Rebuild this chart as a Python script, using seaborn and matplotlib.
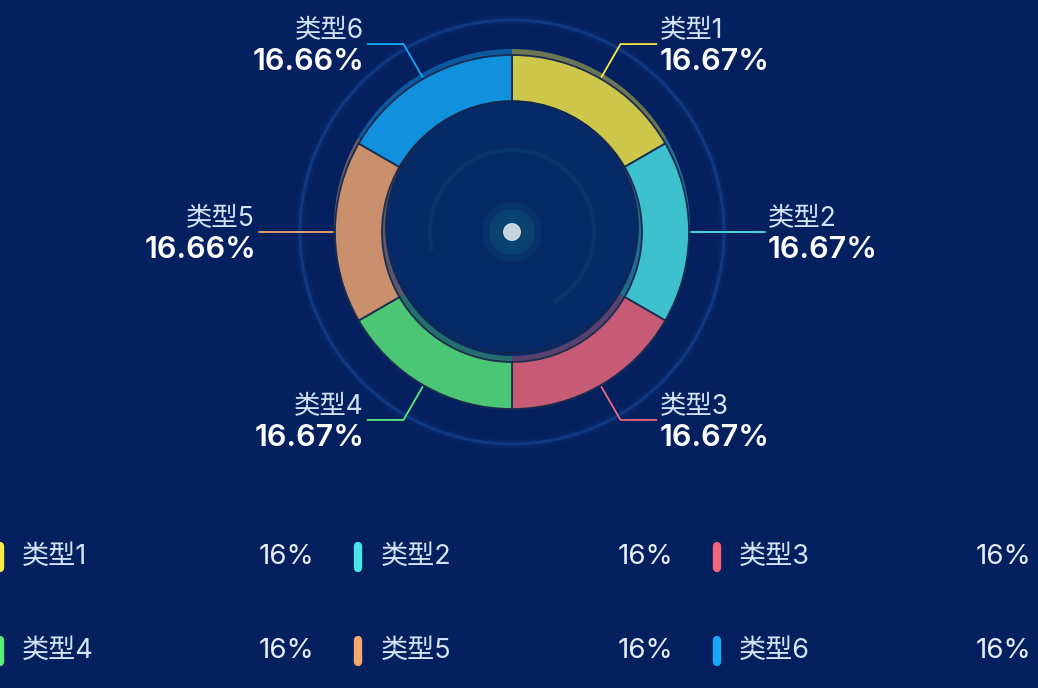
import numpy as np
import matplotlib
matplotlib.use('Agg')
import matplotlib.pyplot as plt
from matplotlib.colors import to_rgb
from matplotlib.patches import Circle, Arc
import seaborn as sns

# == data
names = ['类型1', '类型2', '类型3', '类型4', '类型5', '类型6']
values = [1, 1, 1, 1, 1, 1]
pct_labels = ['16.67%', '16.67%', '16.67%', '16.67%', '16.66%', '16.66%']
legend_pct = ['16%', '16%', '16%', '16%', '16%', '16%']
colors = ['#F9EC48', '#4AE4E6', '#F2687A', '#5BEB78', '#F5A870', '#14A9FA']

bg = '#04205F'
sns.set_theme(style='white', rc={'figure.facecolor': bg, 'axes.facecolor': bg})
plt.rcParams['font.family'] = ['Inter', 'Noto Sans CJK SC', 'DejaVu Sans']
pal = sns.color_palette(colors)


def blend(c, a, base=bg):
    c, b = np.array(to_rgb(c)), np.array(to_rgb(base))
    return tuple(a * c + (1 - a) * b)


pal_main = [blend(c, 0.82) for c in pal]
pal_shadow = [blend(c, 0.42) for c in pal]
pal_inner = [blend(c, 0.35, '#062a68') for c in pal]

fig = plt.figure(figsize=(10.38, 6.88), dpi=100)
ax = fig.add_axes([0, 0, 1, 1])
cx, cy = 512, 232
disc = '#062a68'

# == faint outer ring with a soft glow
for lw, a in [(8, 0.05), (5, 0.1), (2.2, 0.42)]:
    ax.add_patch(Circle((cx, cy), 212, fill=False, lw=lw, ec='#1d50a0', alpha=a, zorder=1))

# == inner disc (base)
ax.add_patch(Circle((cx, cy), 130, fc=disc, ec='none', zorder=1))

# == shadow-like thin rings: outer one shows at the top, inner one at the bottom
ax.pie(values, colors=pal_shadow, radius=178, center=(cx, cy - 5), startangle=-90, counterclock=True,
       wedgeprops=dict(width=10, edgecolor='none'))
ax.pie(values, colors=pal_inner, radius=130, center=(cx, cy), startangle=-90, counterclock=True,
       wedgeprops=dict(width=6, edgecolor='none'))
ax.add_patch(Circle((cx, cy - 5), 126, fc=disc, ec='#14264a', lw=1.2, zorder=2))

# == decorative arc and centre dot
ax.add_patch(Arc((cx, cy), 164, 164, theta1=-193, theta2=59, lw=3, color='#0e4d73', alpha=0.3, zorder=3))
ax.add_patch(Circle((cx, cy), 30, fc='#0b4a72', ec='none', alpha=0.3, zorder=3))
ax.add_patch(Circle((cx, cy), 23, fc='#0b4a72', ec='none', alpha=0.65, zorder=3))
ax.add_patch(Circle((cx, cy), 9, fc='#c9d3e0', ec='none', zorder=4))

# == main donut
ax.pie(values, colors=pal_main, radius=177, center=(cx, cy), startangle=-90, counterclock=True,
       wedgeprops=dict(width=47, edgecolor='#1b2c4e', linewidth=1.3))

# == leader lines and labels
fracs = np.array(values) / np.sum(values)
starts = 90 - 360 * np.concatenate([[0], np.cumsum(fracs)[:-1]])
mids = starts - 180 * fracs
for i, th in enumerate(mids):
    t = np.deg2rad(th)
    x0, y0 = cx + 179 * np.cos(t), cy - 179 * np.sin(t)
    x1, y1 = cx + 217 * np.cos(t), cy - 217 * np.sin(t)
    side = 1 if np.cos(t) >= -1e-6 else -1
    x2 = x1 + 36 * side
    ax.plot([x0, x1, x2], [y0, y1, y1], color=pal[i], lw=1.3, zorder=4)
    ha = 'left' if side > 0 else 'right'
    xn = x2 + (3 if side > 0 else -4)
    xp = x2 + (3 if side > 0 else -3)
    ax.text(xn, y1 - 14, names[i], ha=ha, va='center', fontsize=19, color='#d2e4f6')
    ax.text(xp, y1 + 18, pct_labels[i], ha=ha, va='center', fontsize=22,
            fontweight='semibold', color='white')

# == legend at the bottom, 3 columns x 2 rows
for i in range(len(names)):
    row, col = divmod(i, 3)
    xb = -0.5 + 358.5 * col
    yb = 557 + 94 * row
    ax.plot([xb, xb], [yb - 11, yb + 11], color=pal[i], lw=6, solid_capstyle='round')
    ax.text(xb + 22.5, yb, names[i], ha='left', va='center', fontsize=19.5, color='#d2e4f6')
    ax.text(xb + 315, yb, legend_pct[i], ha='right', va='center', fontsize=20, color='#e8eef8')

ax.set_aspect('auto')
ax.set_xlim(0, 1038)
ax.set_ylim(688, 0)
ax.axis('off')
fig.savefig('out.png', dpi=100, facecolor=bg)
